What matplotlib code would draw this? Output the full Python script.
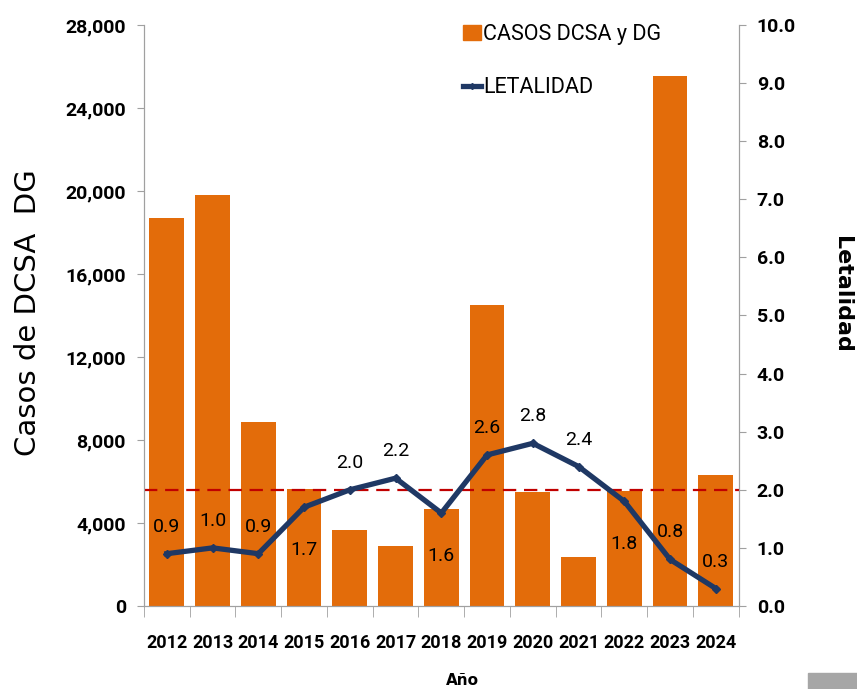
import numpy as np
import matplotlib.pyplot as plt
from matplotlib.ticker import FuncFormatter, FixedLocator
from matplotlib.lines import Line2D
from matplotlib.patches import Patch, Rectangle

years = ['2012', '2013', '2014', '2015', '2016', '2017', '2018',
         '2019', '2020', '2021', '2022', '2023', '2024']
casos = [18680, 19800, 8850, 5640, 3660, 2900, 4690,
         14500, 5490, 2380, 5560, 25540, 6310]
letalidad = [0.9, 1.0, 0.9, 1.7, 2.0, 2.2, 1.6, 2.6, 2.8, 2.4, 1.8, 0.8, 0.3]
# label above (+) or below (-) the point
label_pos = [1, 1, 1, -1, 1, 1, -1, 1, 1, 1, -1, 1, 1]
umbral = 2.0

plt.rcParams['font.family'] = ['Roboto', 'DejaVu Sans']
plt.rcParams['font.stretch'] = 'condensed'

orange = '#E36C0A'
navy = '#1F3864'
grey = '#A0A0A0'

fig = plt.figure(figsize=(8.57, 6.89), dpi=100)
ax = fig.add_axes([0.168, 0.1205, 0.694, 0.8432])
ax2 = ax.twinx()

x = np.arange(len(years))
ax.bar(x, casos, width=0.76, color=orange, zorder=2)
ax.set_xlim(-0.5, len(years) - 0.5)
ax.set_ylim(0, 28000)
ax.set_yticks(np.arange(0, 28001, 4000))
ax.yaxis.set_major_formatter(FuncFormatter(lambda v, p: f'{int(v):,}'))

ax2.plot(x, letalidad, color=navy, lw=3.8, marker='D', ms=4, zorder=3)
ax2.axhline(umbral, color='#C00000', lw=1.6, ls=(0, (6, 3.5)), zorder=2)
ax2.set_ylim(0, 10)
ax2.set_yticks(np.arange(0, 10.01, 1))
ax2.yaxis.set_major_formatter(FuncFormatter(lambda v, p: f'{v:.1f}'))

for xi, v, pos in zip(x, letalidad, label_pos):
    off = 27 if pos > 0 else -43
    ax2.annotate(f'{v:.1f}', (xi, v), xytext=(0, off), textcoords='offset pixels',
                 ha='center', va='center', fontsize=14, color='black')

# axis styling
for a in (ax, ax2):
    a.spines['top'].set_visible(False)
    for s in ('left', 'right', 'bottom'):
        a.spines[s].set_color(grey)
ax.set_xticks(x)
ax.set_xticklabels(years, fontsize=13, fontweight='bold')
ax.tick_params(axis='x', length=0, pad=20)
ax.xaxis.set_minor_locator(FixedLocator(np.arange(-0.5, len(years), 1)))
ax.tick_params(axis='x', which='minor', length=8, color=grey)
ax.tick_params(axis='y', length=5, color=grey, labelsize=14, pad=8)
for t in ax.get_yticklabels():
    t.set_fontweight('bold')
ax2.tick_params(axis='y', length=5, color=grey, labelsize=14, pad=8)
for t in ax2.get_yticklabels():
    t.set_fontweight('bold')

fig.text(0.033, 0.546, 'Casos de DCSA  DG', rotation=90, ha='center', va='center',
         fontsize=21, family=['DejaVu Sans'], fontstretch='normal')
fig.text(0.982, 0.573, 'Letalidad', rotation=-90, ha='center', va='center',
         fontsize=16, fontweight='bold', family=['DejaVu Sans'], fontstretch='normal')
fig.text(0.539, 0.013, 'Año', ha='center', va='center',
         fontsize=11, fontweight='bold', family=['DejaVu Sans'], fontstretch='normal')

handles = [Patch(color=orange),
           Line2D([0], [0], color=navy, lw=3.8, marker='D', ms=3)]
ax.legend(handles, ['CASOS DCSA y DG', 'LETALIDAD'], loc='upper left',
          bbox_to_anchor=(0.503, 1.035), frameon=False, fontsize=15.5,
          handlelength=0.85, handletextpad=0.1, labelspacing=1.5)

fig.patches.append(Rectangle((0.943, 0.0), 0.057, 0.023, transform=fig.transFigure,
                             color='#A6A6A6'))

fig.savefig('out.png', dpi=100)
